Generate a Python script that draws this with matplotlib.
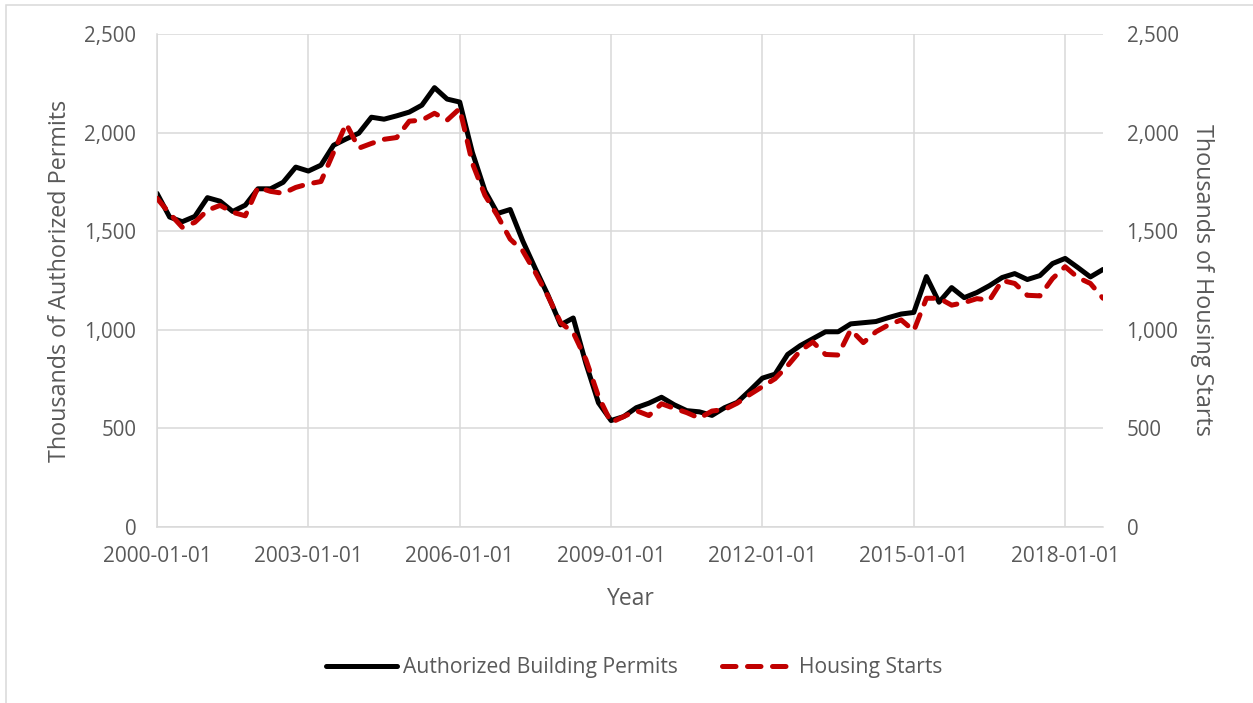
import pandas as pd
import matplotlib.pyplot as plt
from matplotlib.patches import Rectangle
from matplotlib.ticker import FuncFormatter

plt.rcParams['font.family'] = ['Open Sans', 'DejaVu Sans']

# Quarterly observations, 2000-01-01 through 2018-10-01
quarters = pd.date_range('2000-01-01', '2018-10-01', freq='QS').strftime('%Y-%m-%d').tolist()

# Thousands of authorized building permits (left axis)
permits = [1692, 1572, 1548, 1575, 1670, 1652, 1600, 1632, 1715, 1715, 1748, 1825,
           1805, 1835, 1936, 1968, 1997, 2078, 2068, 2085, 2104, 2139, 2228, 2170,
           2155, 1900, 1705, 1590, 1610, 1450, 1310, 1175, 1025, 1060, 830, 630,
           540, 560, 605, 628, 658, 620, 590, 584, 566, 605, 632, 692,
           755, 775, 875, 920, 955, 990, 990, 1030, 1036, 1042, 1062, 1080,
           1088, 1270, 1140, 1214, 1163, 1189, 1224, 1265, 1285, 1255, 1275, 1336,
           1362, 1316, 1268, 1306]

# Thousands of housing starts (right axis)
starts = [1667, 1590, 1520, 1545, 1606, 1631, 1596, 1578, 1722, 1702, 1692, 1722,
          1740, 1752, 1900, 2045, 1921, 1945, 1966, 1975, 2058, 2063, 2098, 2063,
          2122, 1845, 1682, 1578, 1460, 1400, 1290, 1170, 1036, 986, 850, 662,
          530, 560, 590, 565, 625, 602, 580, 552, 588, 596, 628, 672,
          712, 752, 818, 894, 938, 875, 872, 1000, 935, 990, 1025, 1050,
          995, 1160, 1160, 1125, 1138, 1158, 1150, 1250, 1235, 1175, 1172, 1260,
          1320, 1265, 1235, 1160]

y_ticks = [0, 500, 1000, 1500, 2000, 2500]

W, H = 1253, 703
grey_text = '#595959'
grid_col = '#d9d9d9'

fig = plt.figure(figsize=(W / 100, H / 100), dpi=100)
ax = fig.add_axes([157 / W, 1 - 527 / H, (1103 - 157) / W, (527 - 34) / H])
ax2 = ax.twinx()

pos = list(range(len(quarters)))
l1, = ax.plot(pos, permits, color='black', lw=3.6, solid_joinstyle='round',
              solid_capstyle='round', label='Authorized Building Permits')
l2, = ax2.plot(pos, starts, color='#c00000', lw=3.6, dashes=(2.7, 2.3),
               dash_capstyle='round', dash_joinstyle='round', label='Housing Starts')

fmt = FuncFormatter(lambda v, p: f'{v:,.0f}')
for a in (ax, ax2):
    a.set_xlim(0, len(quarters) - 1)
    a.set_ylim(0, 2500)
    a.set_yticks(y_ticks)
    a.yaxis.set_major_formatter(fmt)
    for s in a.spines.values():
        s.set_visible(False)

for side in ('left', 'bottom'):
    ax.spines[side].set_visible(True)
    ax.spines[side].set_color(grid_col)
    ax.spines[side].set_linewidth(1.1)

xt = pos[::12]
ax.set_xticks(xt)
ax.set_xticklabels([quarters[i] for i in xt])
ax.grid(True, color=grid_col, lw=1.1)
ax.set_axisbelow(True)

ax.tick_params(axis='x', length=0, pad=14, labelsize=15, labelcolor=grey_text)
ax.tick_params(axis='y', length=0, pad=15, labelsize=14.8, labelcolor=grey_text)
ax2.tick_params(axis='y', length=0, pad=17, labelsize=14.8, labelcolor=grey_text)

fig.text(60 / W, 1 - 281 / H, 'Thousands of Authorized Permits', rotation=90,
         ha='center', va='center', fontsize=16.8, color=grey_text)
fig.text(1202 / W, 1 - 280 / H, 'Thousands of Housing Starts', rotation=270,
         ha='center', va='center', fontsize=16.8, color=grey_text)
fig.text(631 / W, 1 - 599 / H, 'Year', ha='center', va='center',
         fontsize=16.5, color=grey_text)

leg = fig.legend(handles=[l1, l2], loc='center', bbox_to_anchor=(634 / W, 1 - 668 / H),
                 ncol=2, frameon=False, fontsize=15.2, handlelength=3.4,
                 handletextpad=0.25, columnspacing=2.1)
for t in leg.get_texts():
    t.set_color(grey_text)

# thin outer frame of the chart area
fig.add_artist(Rectangle((6 / W, -0.5), 1.5, 0.5 + 1 - 5 / H, transform=fig.transFigure,
                         fill=False, ec=grid_col, lw=1.1))

fig.savefig('out.png', dpi=100)
